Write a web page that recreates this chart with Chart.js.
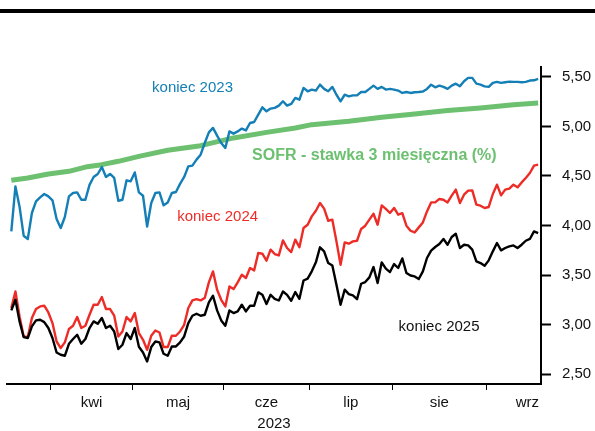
<!DOCTYPE html>
<html lang="pl">
<head>
<meta charset="utf-8">
<script src="https://cdn.jsdelivr.net/npm/chart.js@4.4.1/dist/chart.umd.min.js"></script>
<style>
  html, body { margin: 0; padding: 0; background: #fff; }
  #chart { display: block; }
</style>
</head>
<body>
<canvas id="chart" width="595" height="431"></canvas>
<script>
// x values are trading-day indices (mid-March .. mid-September 2023)
const months = ["kwi", "maj", "cze", "lip", "sie", "wrz"];
const monthStarts = [9.5, 29.5, 51.5, 72.5, 92.5, 115.5];
const monthLabelAt = [19.5, 40.5, 62, 82.5, 104, 125.4];
const rateTicks = [2.5, 3, 3.5, 4, 4.5, 5, 5.5];

const end2023 = [
  3.94, 4.395, 4.19, 3.897, 3.864, 4.126, 4.243, 4.284, 4.318, 4.294,
  4.254, 4.066, 3.975, 4.086, 4.294, 4.328, 4.334, 4.26, 4.26, 4.41,
  4.49, 4.52, 4.59, 4.49, 4.52, 4.48, 4.25, 4.26, 4.456, 4.446,
  4.536, 4.334, 4.30, 3.99, 4.227, 4.328, 4.334, 4.203, 4.233, 4.328,
  4.338, 4.42, 4.49, 4.597, 4.604, 4.665, 4.715, 4.833, 4.94, 4.985,
  4.907, 4.833, 4.783, 4.95, 4.927, 4.95, 4.978, 4.96, 5.035, 5.045,
  5.119, 5.193, 5.153, 5.18, 5.187, 5.21, 5.254, 5.21, 5.227, 5.288,
  5.27, 5.389, 5.355, 5.372, 5.362, 5.422, 5.379, 5.355, 5.399, 5.32,
  5.254, 5.32, 5.304, 5.314, 5.314, 5.348, 5.348, 5.379, 5.412, 5.379,
  5.399, 5.372, 5.379, 5.372, 5.362, 5.338, 5.348, 5.338, 5.345, 5.348,
  5.352, 5.379, 5.422, 5.395, 5.412, 5.399, 5.379, 5.412, 5.432, 5.405,
  5.456, 5.49, 5.49, 5.432, 5.422, 5.405, 5.399, 5.44, 5.45, 5.44,
  5.446, 5.452, 5.45, 5.45, 5.446, 5.45, 5.463, 5.466, 5.48
];
const end2024 = [
  3.167, 3.334, 3.082, 2.88, 2.874, 3.066, 3.157, 3.183, 3.19, 3.122,
  3.015, 2.829, 2.763, 2.82, 2.955, 2.988, 3.076, 2.965, 2.988, 3.099,
  3.2, 3.2, 3.278, 3.157, 3.157, 3.089, 2.88, 2.93, 3.076, 3.032,
  3.116, 2.914, 2.846, 2.745, 2.887, 2.94, 2.92, 2.773, 2.773, 2.887,
  2.887, 2.93, 2.998, 3.167, 3.244, 3.257, 3.244, 3.268, 3.426, 3.537,
  3.352, 3.25, 3.183, 3.385, 3.358, 3.426, 3.503, 3.47, 3.571, 3.547,
  3.722, 3.715, 3.645, 3.756, 3.712, 3.698, 3.85, 3.773, 3.732, 3.857,
  3.78, 3.975, 4.008, 4.092, 4.149, 4.227, 4.17, 4.048, 4.059, 3.84,
  3.604, 3.829, 3.816, 3.84, 3.846, 3.965, 3.998, 4.059, 4.119, 4.008,
  4.203, 4.167, 4.126, 4.177, 4.109, 4.125, 3.998, 3.947, 3.93, 3.981,
  4.031, 4.142, 4.233, 4.233, 4.268, 4.26, 4.233, 4.301, 4.362, 4.227,
  4.311, 4.352, 4.355, 4.21, 4.2, 4.177, 4.187, 4.318, 4.412, 4.304,
  4.362, 4.372, 4.412, 4.385, 4.435, 4.48, 4.53, 4.604, 4.614
];
const end2025 = [
  3.143, 3.25, 3.032, 2.874, 2.864, 2.982, 3.042, 3.048, 3.025, 2.965,
  2.864, 2.718, 2.695, 2.685, 2.806, 2.854, 2.897, 2.806, 2.854, 2.965,
  3.032, 3.008, 3.066, 2.965, 2.988, 2.93, 2.753, 2.796, 2.914, 2.854,
  2.965, 2.776, 2.718, 2.627, 2.773, 2.829, 2.82, 2.705, 2.685, 2.779,
  2.779, 2.82, 2.88, 3.015, 3.089, 3.109, 3.089, 3.099, 3.223, 3.291,
  3.143, 3.042, 2.988, 3.143, 3.116, 3.133, 3.2, 3.133, 3.19, 3.19,
  3.325, 3.30, 3.207, 3.30, 3.26, 3.243, 3.334, 3.30, 3.24, 3.328,
  3.26, 3.445, 3.463, 3.537, 3.628, 3.78, 3.739, 3.621, 3.597, 3.402,
  3.2, 3.352, 3.308, 3.294, 3.257, 3.412, 3.429, 3.476, 3.581, 3.419,
  3.628, 3.564, 3.53, 3.611, 3.571, 3.668, 3.52, 3.495, 3.486, 3.46,
  3.537, 3.672, 3.746, 3.783, 3.813, 3.864, 3.806, 3.884, 3.917, 3.773,
  3.806, 3.799, 3.756, 3.638, 3.621, 3.594, 3.648, 3.739, 3.823, 3.749,
  3.773, 3.79, 3.799, 3.773, 3.806, 3.846, 3.864, 3.94, 3.923
];

const sofrDay = [0, 4, 9, 14, 18, 22, 26, 31, 38, 46, 54, 62, 69, 73, 82, 90, 98, 106, 114, 122, 128];
const sofrRate = [4.456, 4.48, 4.52, 4.547, 4.59, 4.614, 4.648, 4.698, 4.759, 4.806, 4.884,
                  4.94, 4.985, 5.018, 5.052, 5.092, 5.126, 5.16, 5.187, 5.22, 5.237];

const BLUE = "#137fb6";
const RED = "#ee2c27";
const GREEN = "#6cc070";
const BLACK = "#000000";
const FONT = "'Liberation Sans', Arial, Helvetica, sans-serif";

// text notes placed in data units (day index, rate)
const notes = [
  { text: "koniec 2023", x: 34.2, y: 5.39, color: BLUE, bold: false },
  { text: "koniec 2024", x: 40.3, y: 4.09, color: RED, bold: false },
  { text: "koniec 2025", x: 94.1, y: 2.98, color: "#111", bold: false },
  { text: "SOFR - stawka 3 miesięczna (%)", x: 58.5, y: 4.71, color: GREEN, bold: true },
];

const toPoints = (arr) => arr.map((v, i) => ({ x: i, y: v }));

const topRule = {
  id: "topRule",
  beforeDraw(chart) {
    const { ctx, width } = chart;
    ctx.save();
    ctx.fillStyle = "#000";
    ctx.fillRect(0, 9, width, 4);
    ctx.restore();
  },
};

const noteLabels = {
  id: "noteLabels",
  afterDatasetsDraw(chart) {
    const { ctx, scales } = chart;
    ctx.save();
    ctx.textAlign = "left";
    ctx.textBaseline = "middle";
    for (const n of notes) {
      ctx.font = (n.bold ? "bold 16px " : "15px ") + FONT;
      ctx.fillStyle = n.color;
      ctx.fillText(n.text, scales.x.getPixelForValue(n.x), scales.y.getPixelForValue(n.y));
    }
    ctx.restore();
  },
};

const lineDefaults = { pointRadius: 0, tension: 0, fill: false, borderJoinStyle: "round" };

new Chart(document.getElementById("chart"), {
  type: "line",
  data: {
    datasets: [
      { ...lineDefaults, label: "koniec 2023", data: toPoints(end2023), borderColor: BLUE, borderWidth: 2.4, order: 0 },
      { ...lineDefaults, label: "SOFR", data: sofrDay.map((d, i) => ({ x: d, y: sofrRate[i] })),
        borderColor: GREEN, borderWidth: 5, order: 1 },
      { ...lineDefaults, label: "koniec 2025", data: toPoints(end2025), borderColor: BLACK, borderWidth: 2.4, order: 2 },
      { ...lineDefaults, label: "koniec 2024", data: toPoints(end2024), borderColor: RED, borderWidth: 2.4, order: 3 },
    ],
  },
  options: {
    responsive: false,
    animation: false,
    devicePixelRatio: 1,
    layout: { padding: { left: 7, top: 67, right: 0, bottom: 0 } },
    plugins: { legend: { display: false }, tooltip: { enabled: false } },
    scales: {
      x: {
        type: "linear",
        position: "bottom",
        weight: 0,
        min: -1.05,
        max: 128.7,
        grid: { drawOnChartArea: false, drawTicks: true, tickLength: 6, tickWidth: 1, tickColor: "#000" },
        border: { display: true, color: "#000", width: 2 },
        ticks: { display: false },
        afterBuildTicks: (s) => { s.ticks = monthStarts.map((v) => ({ value: v })); },
        afterFit: (s) => { s.height = 8; },
      },
      xm: {
        type: "linear",
        position: "bottom",
        weight: 1,
        min: -1.05,
        max: 128.7,
        grid: { display: false, drawTicks: false },
        border: { display: false },
        ticks: {
          autoSkip: false,
          maxRotation: 0,
          padding: 2,
          color: "#111",
          font: { family: FONT, size: 15 },
          callback: (v) => months[monthLabelAt.indexOf(v)] ?? "",
        },
        afterBuildTicks: (s) => { s.ticks = monthLabelAt.map((v) => ({ value: v })); },
        title: { display: true, text: "2023", color: "#111", padding: 0, font: { family: FONT, size: 15, lineHeight: 1 } },
        afterFit: (s) => { s.height = 39; },
      },
      y: {
        type: "linear",
        position: "right",
        min: 2.4,
        max: 5.6,
        grid: { drawOnChartArea: false, drawTicks: true, tickLength: 10, tickWidth: 2, tickColor: "#000" },
        border: { display: true, color: "#000", width: 2 },
        ticks: {
          padding: 11,
          color: "#111",
          font: { family: FONT, size: 15 },
          callback: (v) => v.toFixed(2).replace(".", ","),
        },
        afterBuildTicks: (s) => { s.ticks = rateTicks.map((v) => ({ value: v })); },
        afterFit: (s) => { s.width = 54; },
      },
    },
  },
  plugins: [topRule, noteLabels],
});
</script>
</body>
</html>
